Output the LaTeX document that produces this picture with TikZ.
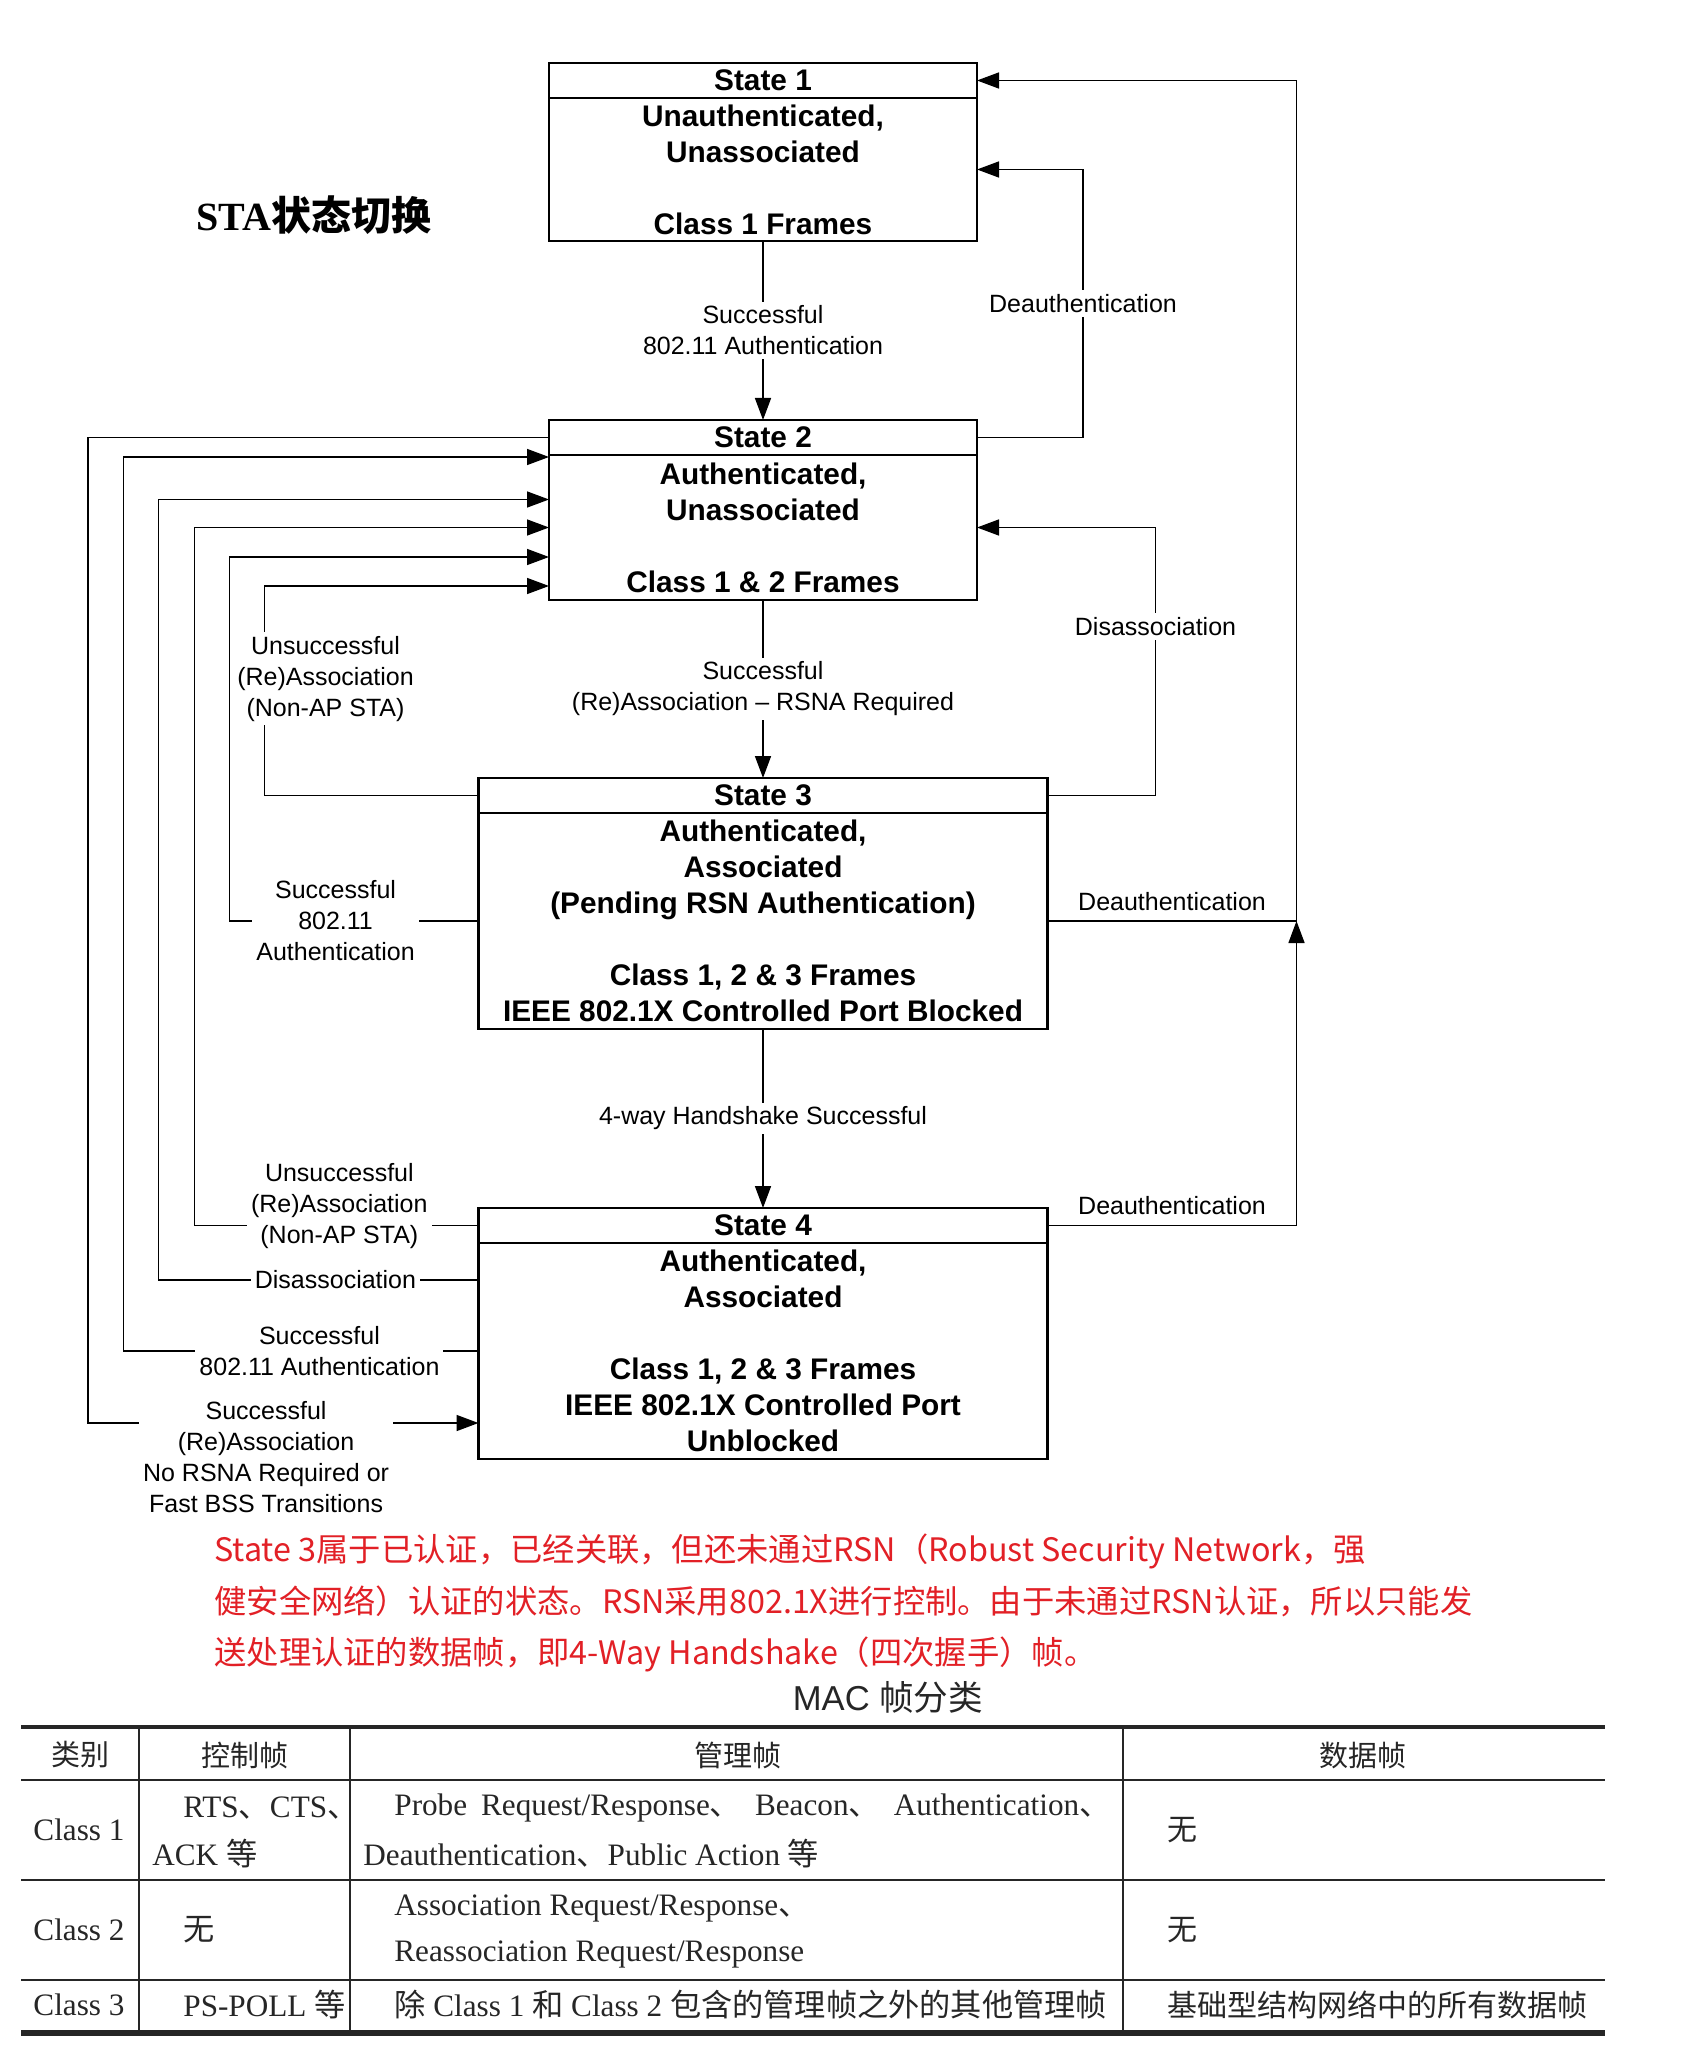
\documentclass[tikz,border=0pt]{standalone}
\usepackage{fontspec}
\setmainfont{Liberation Sans}
\newfontfamily\cjk{Noto Sans CJK SC}
\newfontfamily\tms{Liberation Serif}
\usepackage{tikz}
\usetikzlibrary{positioning}
\usetikzlibrary{arrows.meta}
\usetikzlibrary{calc}
\definecolor{notered}{RGB}{226,32,38}
\definecolor{tabgray}{RGB}{38,38,38}
\newcommand{\zh}[1]{{\cjk #1}}

\begin{document}
\begin{tikzpicture}[x=0.5pt, y=-0.5pt, node distance=89.5pt,
	hdr/.style={draw, line width=1.4pt, outer sep=0pt, inner sep=0pt, minimum height=17.5pt, font=\bfseries\fontsize{14.9}{18}\selectfont},
	stbody/.style={hdr, align=center},
	narrowst/.style={minimum width=214pt},
	widest/.style={minimum width=284.5pt},
	conn/.style={line width=0.75pt},
	arr/.style={conn, -{Triangle[length=11pt,width=8pt]}},
	lbl/.style={fill=white, align=center, inner sep=2pt, font=\fontsize{12.5}{15.5}\selectfont},
	lbltop/.style={above=3pt, inner sep=2pt, font=\fontsize{12.5}{15.5}\selectfont},
	cell/.style={inner sep=0pt, text=tabgray, font=\tms\fontsize{15.6}{18}\selectfont},
	datacell/.style={cell, font=\tms\fontsize{15}{18}\selectfont},
	headcell/.style={inner sep=0pt, text=tabgray, font=\cjk\fontsize{14.5}{18}\selectfont}]
			\path[use as bounding box, fill=white] (0,0) rectangle (1693,2064);

			\node[font=\tms\bfseries\fontsize{20}{24}\selectfont] (title) at (314,215) {STA\zh{状态切换}};

			\node[hdr, narrowst] (s1h) at (763,80.5) {State 1};
			\node[stbody, narrowst, minimum height=71.5pt, below=0pt of s1h] (s1) {Unauthenticated,\\Unassociated\\[18pt]Class 1 Frames};
			\node[hdr, narrowst, below=of s1] (s2h) {State 2};
			\node[stbody, narrowst, minimum height=72.5pt, below=0pt of s2h] (s2) {Authenticated,\\Unassociated\\[18pt]Class 1 \& 2 Frames};
			\node[hdr, widest, below=89pt of s2] (s3h) {State 3};
			\node[stbody, widest, minimum height=108pt, below=0pt of s3h] (s3) {Authenticated,\\Associated\\(Pending RSN Authentication)\\[18pt]Class 1, 2 \& 3 Frames\\IEEE 802.1X Controlled Port Blocked};
			\node[hdr, widest, below=of s3] (s4h) {State 4};
			\node[stbody, widest, minimum height=108pt, below=0pt of s4h] (s4) {Authenticated,\\Associated\\[18pt]Class 1, 2 \& 3 Frames\\IEEE 802.1X Controlled Port\\Unblocked};

			\draw[arr] (s1) -- node[lbl] {Successful\\802.11 Authentication} (s2h);
			\draw[arr] (s2) -- node[lbl] {Successful\\(Re)Association – RSNA Required} (s3h);
			\draw[arr] (s3) -- node[lbl] {4-way Handshake Successful} (s4h);

			\draw[arr] (s2h.east) -- ++(106,0) |- node[lbl, pos=0.25] {Deauthentication} (s1.east);
			\draw[arr] (s3h.east) -- ++(108,0) |- node[lbl, pos=0.315] {Disassociation} (s2.east);
			\draw[arr] (s3.east) -- node[lbltop] {Deauthentication} ++(249,0) coordinate (jn) |- (s1h.east);
			\draw[arr] (s4h.east) -| node[lbltop, pos=0.25] {Deauthentication} (jn);

			\draw[arr] (s2h.west) -- ++(-461,0) |- node[lbl, pos=0.728, yshift=-17pt] {Successful\\(Re)Association\\No RSNA Required or\\Fast BSS Transitions} ($(s4.south west)+(0,-36)$);
			\draw[arr] (s4.west) -- node[lbl, pos=0.448] {Successful\\802.11 Authentication} ++(-355,0) |- ($(s2.north west)+(0,2)$);
			\draw[arr] ($(s4.west)+(0,-71)$) -- node[lbl, pos=0.447] {Disassociation} ++(-320,0) |- ($(s2.west)+(0,-28)$);
			\draw[arr] (s4h.west) -- node[lbl, pos=0.49, yshift=9.5pt] {Unsuccessful\\(Re)Association\\(Non-AP STA)} ++(-284,0) |- (s2.west);
			\draw[arr] (s3.west) -- node[lbl, pos=0.574] {Successful\\802.11\\Authentication} ++(-249,0) |- ($(s2.west)+(0,29.5)$);
			\draw[arr] (s3h.west) -- ++(-214,0) |- node[lbl, pos=0.279, xshift=30.5pt] {Unsuccessful\\(Re)Association\\(Non-AP STA)} ($(s2.west)+(0,58.5)$);

			\node[anchor=west, align=left, inner sep=0pt, text=notered, font=\cjk\fontsize{16.15}{25.8}\selectfont] (note) at (214,1603) {State 3属于已认证，已经关联，但还未通过RSN（Robust Security Network，强\\健安全网络）认证的状态。RSN采用802.1X进行控制。由于未通过RSN认证，所以只能发\\送处理认证的数据帧，即4-Way Handshake（四次握手）帧。};

			\node[text=tabgray, font=\fontsize{17.3}{20}\selectfont] (mac) at (888,1697) {MAC \zh{帧分类}};

			\foreach \y/\w in {1727/2.2pt, 1780/1pt, 1880/1pt, 1980/1pt, 2033/2.8pt}
				\draw[line width=\w, tabgray] (21,\y) -- (1605,\y);
			\foreach \x in {139,350,1123}
				\draw[line width=1pt, tabgray] (\x,1727) -- (\x,2033);

			\node[headcell] (h1) at (80,1755) {类别};
			\node[headcell] (h2) at (245,1755) {控制帧};
			\node[headcell] (h3) at (738,1755) {管理帧};
			\node[headcell] (h4) at (1363,1755) {数据帧};

			\node[cell] (c1) at (79,1830) {Class 1};
			\node[cell, anchor=west] (c1a) at (183,1808) {RTS\zh{、}CTS\zh{、}};
			\node[cell, anchor=west] (c1b) at (152,1854) {ACK \zh{等}};
			\node[cell, anchor=west] (c1c) at (394,1808) {\makebox[358pt][l]{Probe\hfill Request/Response\zh{、}\hfill Beacon\zh{、}\hfill Authentication\zh{、}}};
			\node[cell, anchor=west] (c1d) at (363,1854) {Deauthentication\zh{、}Public Action \zh{等}};
			\node[datacell, anchor=west] (c1e) at (1167,1830) {\zh{无}};

			\node[cell] (c2) at (79,1930) {Class 2};
			\node[cell, anchor=west] (c2a) at (183,1930) {\zh{无}};
			\node[cell, anchor=west] (c2b) at (394,1908) {Association Request/Response\zh{、}};
			\node[cell, anchor=west] (c2c) at (394,1954) {Reassociation Request/Response};
			\node[datacell, anchor=west] (c2d) at (1167,1930) {\zh{无}};

			\node[cell] (c3) at (79,2005) {Class 3};
			\node[cell, anchor=west] (c3a) at (183,2005) {PS-POLL \zh{等}};
			\node[cell, anchor=west] (c3b) at (394,2005) {\zh{除} Class 1 \zh{和} Class 2 \zh{包含的管理帧之外的其他管理帧}};
			\node[datacell, anchor=west] (c3c) at (1167,2005) {\zh{基础型结构网络中的所有数据帧}};
		\end{tikzpicture}
\end{document}
